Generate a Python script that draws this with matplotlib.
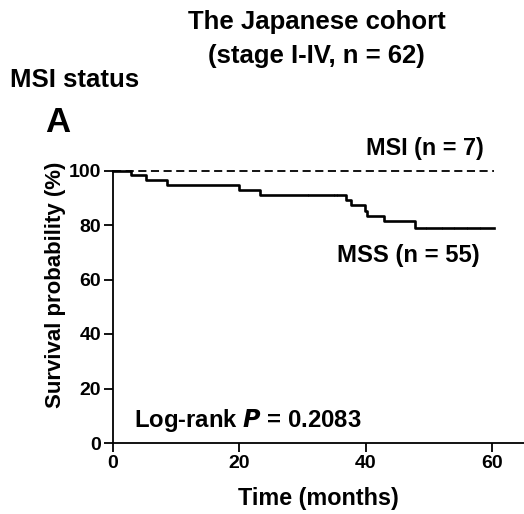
import matplotlib
matplotlib.use("Agg")
import matplotlib.pyplot as plt

plt.rcParams['font.family'] = ['Liberation Sans', 'DejaVu Sans']
plt.rcParams['font.weight'] = 'bold'

# MSS group: Kaplan-Meier step curve (months, survival %)
mss_times = [0, 2.8, 5.2, 8.6, 20.0, 23.3, 36.9, 37.6, 39.9, 40.2, 42.9, 47.8, 60.3]
mss_surv = [100, 98.2, 96.4, 94.5, 92.7, 90.9, 89.2, 87.3, 85.3, 83.3, 81.3, 78.9, 78.9]

# MSS censored observations (months, survival %)
mss_cens_times = [30.9, 34.9, 35.4, 49.5, 52.0, 54.0, 56.0, 58.0]
mss_cens_surv = [90.9, 90.9, 90.9, 78.9, 78.9, 78.9, 78.9, 78.9]

# MSI group: no events
msi_times = [0, 60.3]
msi_surv = [100, 100]

x_ticks = [0, 20, 40, 60]
y_ticks = [0, 20, 40, 60, 80, 100]

W, H = 524, 514
fig = plt.figure(figsize=(W / 100, H / 100), dpi=100)
ax = fig.add_axes([113 / W, 1 - 443 / H, (524 - 113) / W, (443 - 170.5) / H])

ax.step(mss_times, mss_surv, where='post', color='black', lw=1.9, clip_on=False)
ax.plot(mss_cens_times, mss_cens_surv, ls='none', marker='|', ms=1.8, mew=0.6,
        color='black', clip_on=False)
ax.plot(msi_times, msi_surv, color='black', lw=1.3, ls=(0, (4.5, 2.5)), clip_on=False)

ax.set_xlim(0, 65)
ax.set_ylim(0, 100)
ax.set_xticks(x_ticks)
ax.set_yticks(y_ticks)
ax.tick_params(direction='out', length=6.5, width=1.3, labelsize=14, pad=2)
for lab in ax.get_xticklabels() + ax.get_yticklabels():
    lab.set_fontweight('bold')
for s in ['top', 'right']:
    ax.spines[s].set_visible(False)
for s in ['left', 'bottom']:
    ax.spines[s].set_linewidth(1.3)

ax.set_xlabel('Time (months)', fontsize=16.8, fontweight='bold', va='top')
ax.xaxis.set_label_coords(0.5, (443 - 487) / 272.5)
ax.set_ylabel('Survival probability (%)', fontsize=16, fontweight='bold')
ax.yaxis.set_label_coords((66 - 113) / 411, (443 - 285) / 272.5)

ax.text(58.6, 105.7, 'MSI (n = 7)', ha='right', va='baseline', fontsize=16.8, fontweight='bold')
ax.text(58.0, 66.5, 'MSS (n = 55)', ha='right', va='baseline', fontsize=17.2, fontweight='bold')
ax.text(3.3, 6.0, 'Log-rank $\\boldsymbol{P}$ = 0.2083', ha='left', va='baseline',
        fontsize=17.2, fontweight='bold')

fig.text(317 / W, 1 - 29.5 / H, 'The Japanese cohort', ha='center', va='baseline',
         fontsize=18.5, fontweight='bold')
fig.text(316 / W, 1 - 63 / H, '(stage I-IV, n = 62)', ha='center', va='baseline',
         fontsize=18.5, fontweight='bold')
fig.text(10 / W, 1 - 87.3 / H, 'MSI status', ha='left', va='baseline',
         fontsize=18.5, fontweight='bold')
fig.text(45 / W, 1 - 132 / H, 'A', ha='left', va='baseline',
         fontsize=25, fontweight='bold')

fig.savefig('out.png', dpi=100)
